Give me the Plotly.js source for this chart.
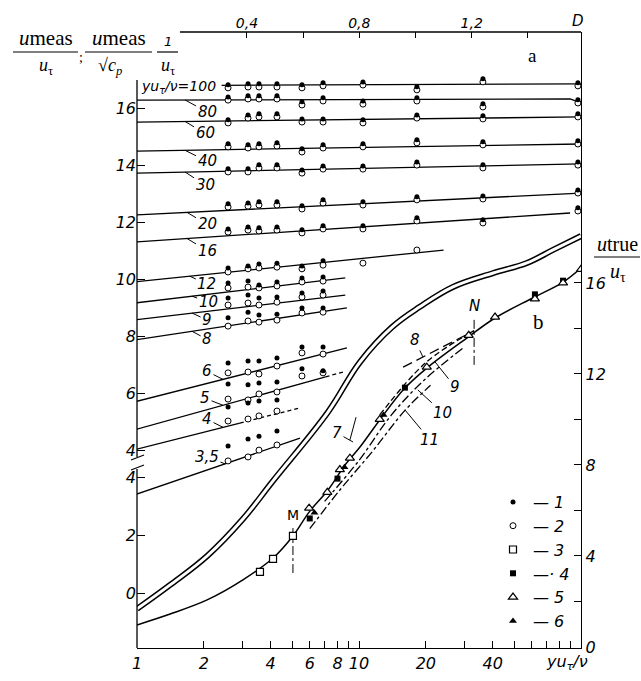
<!DOCTYPE html>
<html><head><meta charset="utf-8">
<script src="https://cdn.plot.ly/plotly-3.0.1.min.js"></script>
<style>html,body{margin:0;padding:0;background:#fff}#c{width:641px;height:681px}</style>
</head><body><div id="c"></div><script>
// ---------- Panel a (top axis D, left upper scale) ----------
const dCols = [0.333,0.404,0.443,0.507,0.596,0.671,0.813,1.005,1.240,1.578];
const aLabels = ['100','80','60','40','30','20','16','12','10','9','8','6','5','4','3,5'];
const fitD = [[0.31,1.589],[0,1.55,1.589],[0,1.589],[0,1.589],[0,1.589],[0,1.589],[0,1.55],[0,1.10],[0,0.75],[0,0.75],[0,0.756],[0,0.756],[0,0.68],[0,0.375],[0,0.589]];
const fitU = [[16.80,16.85],[16.28,16.32,16.18],[15.51,15.69],[14.49,14.74],[13.72,14.04],[12.25,13.02],[11.30,12.32],[9.90,11.02],[9.16,10.04],[8.57,9.44],[7.86,8.99],[5.69,7.59],[4.71,6.57],[4.01,4.95],[2.43,4.42]];
const dashD = [[0.68,0.742],[0.375,0.589]];
const dashU = [[6.57,6.74],[4.95,5.48]];
const openU = [
 [16.71,16.74,16.74,16.74,16.71,16.78,16.81,16.64,16.92,16.78],
 [16.28,16.32,16.32,16.32,16.11,16.25,16.14,16.25,16.04,16.18],
 [15.48,15.65,15.69,15.69,15.51,15.51,15.48,15.65,15.62,15.69],
 [14.64,14.60,14.64,14.67,14.46,14.60,14.64,14.78,14.71,14.74],
 [13.76,13.76,13.90,13.90,13.72,13.86,13.86,14.00,13.90,14.00],
 [12.53,12.56,12.60,12.60,12.46,12.67,12.60,12.78,12.81,13.02],
 [11.65,11.72,11.69,11.72,11.62,11.76,11.76,12.04,11.97,12.39],
 [10.25,10.36,10.39,10.42,10.36,10.49,10.56,11.02],
 [9.69,9.72,9.69,9.76,9.90,9.93],
 [9.09,9.16,9.09,9.19,9.37,9.44],
 [8.35,8.53,8.49,8.56,8.81,8.84],
 [6.71,6.74,6.67,6.95,7.41,7.37],
 [5.79,5.76,5.97,6.04,6.60,6.71],
 [5.02,5.09,5.20,5.37],
 [3.62,3.76,4.00,4.18]
];
const filledU = [
 [16.82,16.85,16.85,16.85,16.82,16.89,16.92,16.75,17.03,16.89],
 [16.39,16.43,16.43,16.43,16.22,16.36,16.25,16.36,16.15,16.29],
 [15.59,15.76,15.80,15.80,15.62,15.62,15.59,15.76,15.73,15.80],
 [14.75,14.71,14.75,14.78,14.57,14.71,14.75,14.89,14.82,14.85],
 [13.87,13.87,14.01,14.01,13.83,13.97,13.97,14.11,14.01,14.11],
 [12.64,12.67,12.71,12.71,12.57,12.78,12.71,12.89,12.92,13.13],
 [11.76,11.83,11.80,11.83,11.73,11.87,11.87,12.15,12.08,12.50],
 [10.39,10.46,10.53,10.56,10.46,10.64],
 [9.86,9.93,9.79,9.90,10.04,10.07],
 [9.34,9.44,9.34,9.37,9.51,9.58],
 [8.64,8.84,8.74,8.77,8.99,8.99],
 [7.06,7.13,7.13,7.23,7.62,7.62],
 [6.32,6.29,6.35,6.39,6.85,6.78],
 [5.51,5.65,5.72,5.76],
 [4.14,4.39,4.49,4.67]
];
// ---------- Panel b (bottom log axis yu/nu) ----------
const bX = [1,1.41,2.07,3.0,4.1,5.04,5.96,7.25,8.65,10.1,12.4,15.8,20.2,30.6,41,60.6,82,100];
const bY = [0.97,1.45,2.07,2.95,3.91,4.88,5.93,6.90,8.0,8.79,9.98,11.30,12.26,13.58,14.46,15.34,16.0,16.66];
const dblX = [1,1.41,2.07,3.0,4.1,7.25,10.1,14.1,18.8,26.5,40.2,57.1,74.8,100];
const dblY = [-0.55,0.28,1.28,2.56,3.88,6.26,7.99,9.20,9.90,10.59,11.07,11.42,11.87,12.35];
const s3X = [3.58,4.1,5.04], s3Y = [3.30,3.87,4.88];
const s4X = [6.0,8.0,16.1,62,83], s4Y = [5.65,7.4,11.4,15.5,16.1];
const s5X = [5.96,7.2,8.2,9.1,12.4,20.2,31.2,41,62,83,100];
const s5Y = [6.1,6.8,7.8,8.3,10.0,12.3,13.7,14.5,15.3,16.0,16.6];
const s6X = [6.3,8.6,12.9], s6Y = [5.9,7.9,10.2];
const l8X = [15.8,33], l8Y = [12.3,13.9];
const l9X = [12.4,20,33], l9Y = [10.2,12.5,13.9];
const l10X = [7.0,10,14,20,30], l10Y = [6.4,8.2,10.2,11.8,13.2];
const l11X = [6,8.2,11.5,16.1,21], l11Y = [5.2,6.9,8.6,10.4,11.5];
const mX = 5.04, mY = [3.25,5.36];
const nX = 33, nY = [12.4,14.5];
// ticks
const xTickVals = [1,2,3,4,5,6,7,8,9,10,20,30,40,50,60,70,80,90,100];
const xTickText = ['1','2','','4','','6','','8','','10','20','','40','','','','','',''];
const dTickVals = [0.4,0.6,0.8,1.0,1.2,1.4];
const dTickText = ['0,4','','0,8','','1,2',''];
const yLowVals = [0,2,4], yLowText = ['0','2','4'];
const yUpVals = [4,6,8,10,12,14,16], yUpText = ['4','6','8','10','12','14','16'];
const yRVals = [0,2,4,6,8,10,12,14,16], yRText = ['0','','4','','8','','12','','16'];

const BLK = '#000';
const traces = [];
fitD.forEach((d,i)=>{
  traces.push({x:d, y:fitU[i], xaxis:'x2', yaxis:'y3', mode:'lines', line:{color:BLK,width:1.3}, showlegend:false, hoverinfo:'skip'});
});
dashD.forEach((d,i)=>{
  traces.push({x:d, y:dashU[i], xaxis:'x2', yaxis:'y3', mode:'lines', line:{color:BLK,width:1.3,dash:'4px,3px'}, showlegend:false, hoverinfo:'skip'});
});
traces.push({x:dblX,y:dblY,xaxis:'x',yaxis:'y',mode:'lines',line:{color:BLK,width:6,shape:'spline',smoothing:1.1},showlegend:false,hoverinfo:'skip'});
traces.push({x:dblX,y:dblY,xaxis:'x',yaxis:'y',mode:'lines',line:{color:'#fff',width:3,shape:'spline',smoothing:1.1},showlegend:false,hoverinfo:'skip'});
traces.push({x:bX,y:bY,xaxis:'x',yaxis:'y2',mode:'lines',line:{color:BLK,width:1.5,shape:'spline'},showlegend:false,hoverinfo:'skip'});
traces.push({x:l8X,y:l8Y,xaxis:'x',yaxis:'y2',mode:'lines',line:{color:BLK,width:1.3,dash:'10px,5px'},showlegend:false,hoverinfo:'skip'});
traces.push({x:l9X,y:l9Y,xaxis:'x',yaxis:'y2',mode:'lines',line:{color:BLK,width:1.3,dash:'6px,3px',shape:'spline'},showlegend:false,hoverinfo:'skip'});
traces.push({x:l10X,y:l10Y,xaxis:'x',yaxis:'y2',mode:'lines',line:{color:BLK,width:1.3,dash:'dashdot',shape:'spline'},showlegend:false,hoverinfo:'skip'});
traces.push({x:l11X,y:l11Y,xaxis:'x',yaxis:'y2',mode:'lines',line:{color:BLK,width:1.3,dash:'dashdot',shape:'spline'},showlegend:false,hoverinfo:'skip'});
traces.push({x:[mX,mX],y:mY,xaxis:'x',yaxis:'y2',mode:'lines',line:{color:BLK,width:1,dash:'dashdot'},showlegend:false,hoverinfo:'skip'});
traces.push({x:[nX,nX],y:nY,xaxis:'x',yaxis:'y2',mode:'lines',line:{color:BLK,width:1,dash:'dashdot'},showlegend:false,hoverinfo:'skip'});

function gather(arrs){const xs=[],ys=[];arrs.forEach(a=>{a.forEach((v,j)=>{xs.push(dCols[j]);ys.push(v);});});return [xs,ys];}
const [oX,oY] = gather(openU);
const [fX,fY] = gather(filledU);
const LF = {family:'DejaVu Sans', size:16, style:'italic', color:BLK};
traces.push({x:oX,y:oY,xaxis:'x2',yaxis:'y3',mode:'markers',name:'— 2',legendrank:2,marker:{symbol:'circle',size:6,color:'#fff',line:{color:BLK,width:1}},hoverinfo:'skip'});
traces.push({x:fX,y:fY,xaxis:'x2',yaxis:'y3',mode:'markers',name:'— 1',legendrank:1,marker:{symbol:'circle',size:5,color:BLK},hoverinfo:'skip'});
traces.push({x:s3X,y:s3Y,xaxis:'x',yaxis:'y2',mode:'markers',name:'— 3',legendrank:3,marker:{symbol:'square',size:7,color:'#fff',line:{color:BLK,width:1.2}},hoverinfo:'skip'});
traces.push({x:s4X,y:s4Y,xaxis:'x',yaxis:'y2',mode:'markers',name:'—· 4',legendrank:4,marker:{symbol:'square',size:6,color:BLK},hoverinfo:'skip'});
traces.push({x:s5X,y:s5Y,xaxis:'x',yaxis:'y2',mode:'markers',name:'— 5',legendrank:5,marker:{symbol:'triangle-up',size:8,color:'#fff',line:{color:BLK,width:1.2}},hoverinfo:'skip'});
traces.push({x:s6X,y:s6Y,xaxis:'x',yaxis:'y2',mode:'markers',name:'— 6',legendrank:6,marker:{symbol:'triangle-up',size:7,color:BLK},hoverinfo:'skip'});

function uAt(i,d){const xs=fitD[i],ys=fitU[i];for(let k=0;k<xs.length-1;k++){if(d<=xs[k+1]||k===xs.length-2){const t=(d-xs[k])/(xs[k+1]-xs[k]);return ys[k]+t*(ys[k+1]-ys[k]);}}}
const px2X = p => (p-137)/444, px2Y = p => (648-p)/616;
const IF = s => ({family:'DejaVu Sans', size:s, style:'italic', color:BLK});
const SF = s => ({family:'Liberation Serif', size:s, color:BLK});
const ann = [];
const labPos = [null,[0.18,22,12],[0.18,20,12],[0.18,22,11],[0.18,20,13],[0.187,20,12],[0.187,20,12],[0.197,17,8],[0.205,16,6],[0.205,15,7],[0.205,15,8],[0.315,-16,-8],[0.315,-18,-7],[0.315,-16,-8],[0.322,-18,-7]];
labPos.forEach((p,i)=>{ if(!p) return;
  ann.push({xref:'x2',yref:'y3',x:p[0],y:uAt(i,p[0]),ax:p[1],ay:p[2],text:aLabels[i],showarrow:true,arrowhead:0,arrowwidth:1,arrowcolor:BLK,standoff:0,font:IF(15)});
});
const P = (px,py,text,font,xa,ya) => ({xref:'paper',yref:'paper',x:px2X(px),y:px2Y(py),xanchor:xa||'center',yanchor:ya||'middle',text:text,showarrow:false,font:font});
ann.push(Object.assign(P(139,87,'yu<sub>τ</sub>/ν=100',IF(14),'left'),{bgcolor:'#fff'}));
const bl = [['8',19.4,12.75,-8,-17],['9',22,12.53,20,25],['10',18.4,11.3,25,23],['11',16.1,10.42,25,30],['7',9.4,9.01,-16,-9]];
bl.forEach(b=>ann.push({xref:'x',yref:'y2',x:Math.log10(b[1]),y:b[2],ax:b[3],ay:b[4],text:b[0],showarrow:true,arrowhead:0,arrowwidth:1,arrowcolor:BLK,standoff:0,font:IF(15)}));
ann.push({xref:'x',yref:'y2',x:Math.log10(mX),y:mY[1],xanchor:'center',yanchor:'bottom',text:'M',showarrow:false,font:{family:'DejaVu Sans',size:14,color:BLK}});
ann.push({xref:'x',yref:'y2',x:Math.log10(nX),y:nY[1],xanchor:'center',yanchor:'bottom',text:'N',showarrow:false,font:IF(15)});
ann.push(P(532,55,'a',SF(19)));
ann.push(P(538,322,'b',SF(21)));
ann.push(P(567,662,'yu<sub>τ</sub>/ν',IF(16)));
ann.push(P(578,21,'D',IF(15)));
ann.push(P(46,52,'<i>u</i>meas',SF(21),'center','bottom'));
ann.push(P(46,53,'<i>u</i><sub>τ</sub>',SF(18),'center','top'));
ann.push(P(81,57,';',SF(14)));
ann.push(P(119,52,'<i>u</i>meas',SF(21),'center','bottom'));
ann.push(P(110,53,'√<i>c</i><sub><i>p</i></sub>',SF(18),'center','top'));
ann.push(P(168,51,'<i>1</i>',IF(13),'center','bottom'));
ann.push(P(168,53,'<i>u</i><sub>τ</sub>',SF(18),'center','top'));
ann.push(P(617,257,'<i>u</i>true',SF(20),'center','bottom'));
ann.push(P(618,258,'<i>u</i><sub>τ</sub>',SF(20),'center','top'));

const ln = (x0,y0,x1,y1,w)=>({type:'line',xref:'paper',yref:'paper',x0:px2X(x0),y0:px2Y(y0),x1:px2X(x1),y1:px2Y(y1),line:{color:BLK,width:w||1.3}});
const shapes = [
  ln(137,80,137,457), ln(137,469,137,648), ln(131,460,144,455,1.2), ln(131,470,144,465,1.2),
  ln(180,32,581,32), ln(13,52,78,52,1.2), ln(85,52,152,52,1.2), ln(157,52,178,52,1.2), ln(594,257,640,257,1.2),
  {type:'line',xref:'x',yref:'y2',x0:9.1,y0:9.1,x1:9.7,y1:10.1,line:{color:BLK,width:1}}
];

const TF = IF(16);
const layout = {
  width:641,height:681,margin:{l:137,r:60,t:32,b:33},
  paper_bgcolor:'#fff',plot_bgcolor:'#fff',showlegend:true,
  legend:{x:px2X(493),y:px2Y(485),xanchor:'left',yanchor:'top',bgcolor:'rgba(0,0,0,0)',font:LF,traceorder:'normal'},
  xaxis:{type:'log',range:[0,2],tickvals:xTickVals,ticktext:xTickText,ticks:'inside',ticklen:7,tickcolor:BLK,showline:true,linecolor:BLK,linewidth:1.3,showgrid:false,zeroline:false,tickfont:TF},
  xaxis2:{overlaying:'x',side:'top',range:[0.0089,1.589],tickvals:dTickVals,ticktext:dTickText,ticks:'inside',ticklen:6,tickcolor:BLK,showline:false,showgrid:false,zeroline:false,tickfont:IF(14)},
  yaxis:{range:[-1.903,19.41],tickvals:yLowVals,ticktext:yLowText,ticks:'inside',ticklen:8,tickcolor:BLK,showline:false,showgrid:false,zeroline:false,tickfont:TF},
  yaxis2:{overlaying:'y',side:'right',range:[-0.044,27.03],tickvals:yRVals,ticktext:yRText,ticks:'inside',ticklen:7,tickcolor:BLK,showline:true,linecolor:BLK,linewidth:1.3,showgrid:false,zeroline:false,tickfont:TF},
  yaxis3:{overlaying:'y',side:'left',range:[-2.944,18.67],tickvals:yUpVals,ticktext:yUpText,ticks:'inside',ticklen:8,tickcolor:BLK,showline:false,showgrid:false,zeroline:false,tickfont:TF},
  annotations:ann, shapes:shapes
};
Plotly.newPlot('c',traces,layout,{staticPlot:true});
</script></body></html>
